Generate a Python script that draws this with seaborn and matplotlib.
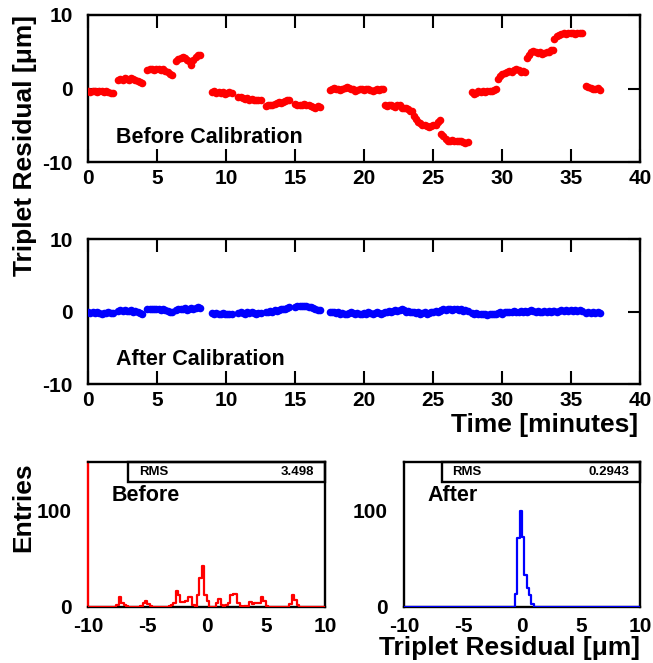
import numpy as np
import pandas as pd
import matplotlib
matplotlib.use("Agg")
import matplotlib.pyplot as plt
import seaborn as sns
from matplotlib.patches import Rectangle

# ---------------- data ----------------
seg_start = [0.0, 2.2, 4.3, 6.4, 9.0, 10.9, 12.9, 15.0, 17.5, 21.5, 23.6,
             25.6, 27.8, 29.7, 31.8, 33.8, 36.1]
seg_end = [1.8, 3.9, 6.1, 8.1, 10.4, 12.5, 14.6, 16.8, 21.4, 23.5, 25.5,
           27.5, 29.6, 31.7, 33.7, 35.8, 37.1]

before_segments = [
    [-0.4, -0.5, -0.3, -0.4, -0.5, -0.4, -0.3, -0.5, -0.4, -0.5, -0.6, -0.6],
    [1.1, 1.3, 1.2, 1.4, 1.3, 1.2, 1.4, 1.3, 1.2, 1.0, 0.9, 0.7],
    [2.5, 2.7, 2.6, 2.5, 2.7, 2.6, 2.5, 2.6, 2.4, 2.3, 2.0, 1.8],
    [3.8, 4.0, 4.2, 4.3, 4.1, 3.9, 3.8, 3.2, 3.9, 4.3, 4.6, 4.5],
    [-0.5, -0.4, -0.6, -0.5, -0.6, -0.5, -0.7, -0.6, -0.5, -0.6],
    [-1.2, -1.1, -1.3, -1.4, -1.3, -1.5, -1.4, -1.6, -1.5, -1.6, -1.5],
    [-2.4, -2.3, -2.2, -2.3, -2.1, -2.0, -1.9, -2.0, -1.8, -1.7, -1.6, -1.5],
    [-2.1, -2.2, -2.3, -2.2, -2.1, -2.3, -2.2, -2.4, -2.5, -2.6, -2.4, -2.5],
    [-0.2, 0.0, 0.1, 0.0, -0.1, -0.2, -0.1, 0.1, 0.2, 0.1, 0.0, -0.1, -0.3,
     -0.2, 0.0, -0.1, -0.2, -0.1, 0.0, -0.2, -0.3, -0.2, -0.1, -0.2, 0.0, -0.1],
    [-2.2, -2.4, -2.3, -2.2, -2.4, -2.5, -2.3, -2.2, -2.6, -2.7, -2.6, -2.8, -3.0, -3.1],
    [-3.8, -4.1, -4.5, -4.7, -4.9, -5.0, -5.1, -5.2, -5.1, -5.0, -4.9, -4.6, -4.3],
    [-6.2, -6.5, -6.9, -7.2, -7.1, -7.0, -7.1, -7.2, -7.1, -7.2, -7.3, -7.4, -7.3],
    [-0.5, -0.7, -0.6, -0.4, -0.5, -0.4, -0.5, -0.4, -0.3, -0.4, -0.2, -0.1],
    [1.3, 1.7, 2.0, 2.1, 2.3, 2.4, 2.3, 2.5, 2.6, 2.5, 2.3, 2.4, 2.2],
    [4.2, 4.6, 4.9, 5.1, 5.0, 4.8, 4.9, 4.7, 4.8, 4.9, 5.0, 5.2, 5.2],
    [6.8, 7.1, 7.3, 7.4, 7.5, 7.4, 7.6, 7.5, 7.5, 7.4, 7.6, 7.6, 7.5],
    [0.4, 0.2, 0.1, 0.0, -0.1, 0.1, -0.2],
]

after_segments = [
    [-0.1, -0.2, -0.1, -0.2, -0.1, -0.2, -0.3, -0.2, -0.2, -0.1, -0.2, -0.2],
    [0.1, 0.2, 0.1, 0.2, 0.1, 0.1, 0.2, 0.0, 0.1, -0.1, -0.2, -0.4],
    [0.4, 0.3, 0.4, 0.3, 0.4, 0.3, 0.2, 0.3, 0.2, 0.1, 0.0, -0.1],
    [0.2, 0.3, 0.4, 0.3, 0.5, 0.2, 0.3, 0.5, 0.4, 0.5, 0.6, 0.5],
    [-0.2, -0.3, -0.2, -0.4, -0.3, -0.2, -0.3, -0.4, -0.3, -0.3],
    [-0.2, -0.1, -0.2, -0.3, -0.1, -0.2, -0.1, -0.2, -0.3, -0.2, -0.2],
    [-0.1, 0.0, 0.1, 0.0, 0.2, 0.1, 0.2, 0.3, 0.3, 0.4, 0.5, 0.6],
    [0.6, 0.7, 0.8, 0.7, 0.8, 0.7, 0.6, 0.6, 0.5, 0.3, 0.2, 0.2],
    [-0.1, 0.0, -0.1, -0.2, -0.1, -0.3, -0.2, -0.4, -0.3, -0.2, -0.1, -0.2, -0.3,
     -0.2, -0.4, -0.3, -0.2, -0.3, -0.1, -0.2, -0.3, -0.2, -0.1, -0.2, -0.3, -0.2],
    [-0.1, 0.0, 0.1, 0.0, 0.1, 0.2, 0.1, 0.2, 0.3, 0.2, 0.0, 0.1, -0.1, 0.0],
    [-0.1, -0.2, -0.1, -0.3, -0.2, -0.1, -0.3, -0.2, -0.1, 0.0, 0.1, 0.0, 0.1],
    [0.2, 0.3, 0.2, 0.4, 0.3, 0.2, 0.4, 0.3, 0.2, 0.3, 0.1, 0.2, 0.1],
    [-0.2, -0.3, -0.2, -0.4, -0.3, -0.4, -0.3, -0.5, -0.4, -0.3, -0.4, -0.3],
    [-0.2, -0.1, -0.3, -0.1, 0.0, -0.1, 0.0, 0.1, 0.0, -0.1, 0.1, 0.0, 0.1],
    [0.0, 0.1, 0.2, 0.1, 0.0, 0.1, -0.1, 0.0, 0.1, 0.0, 0.1, 0.0, 0.1],
    [0.1, 0.0, 0.1, 0.2, 0.1, 0.2, 0.1, 0.2, 0.1, 0.2, 0.1, 0.2, 0.1],
    [-0.2, -0.1, -0.2, -0.1, -0.2, -0.1, -0.2],
]

# histogram bins (lower edges, width 0.2) and counts
before_bin_lo = [-7.6, -7.4, -7.2, -7.0, -6.8, -5.6, -5.4, -5.2, -5.0, -4.8,
                 -3.2, -3.0, -2.8, -2.6, -2.4, -2.2, -2.0, -1.8, -1.6, -1.4, -1.2,
                 -0.8, -0.6, -0.4, -0.2, 0.0,
                 0.8, 1.0, 1.2, 1.6, 1.8, 2.0, 2.2, 2.4, 2.6, 2.8,
                 3.2, 3.4, 3.6, 3.8, 4.0, 4.2, 4.4, 4.6, 4.8, 5.0,
                 7.0, 7.2, 7.4, 7.6]
before_counts = [2, 10, 4, 2, 1, 1, 4, 6, 3, 1,
                 1, 2, 4, 17, 12, 5, 5, 6, 10, 10, 2,
                 12, 30, 43, 12, 6,
                 4, 8, 2, 2, 4, 12, 14, 14, 4, 1,
                 1, 1, 5, 3, 4, 4, 4, 10, 6, 1,
                 3, 13, 7, 2]

after_bin_lo = [-0.6, -0.4, -0.2, 0.0, 0.2, 0.4, 0.6, 0.8]
after_counts = [14, 72, 100, 73, 33, 20, 12, 3]

rms_before = "3.498"
rms_after = "0.2943"

# ---------------- tables ----------------
rows = []
for t0, t1, bv, av in zip(seg_start, seg_end, before_segments, after_segments):
    tt = np.linspace(t0, t1, len(bv))
    for ti, b, a in zip(tt, bv, av):
        rows.append((ti, b, a))
df = pd.DataFrame(rows, columns=["time", "before", "after"])

hb = pd.DataFrame({"x": np.array(before_bin_lo) + 0.1, "w": before_counts})
ha = pd.DataFrame({"x": np.array(after_bin_lo) + 0.1, "w": after_counts})

# ---------------- style ----------------
sns.set_theme(style="white")
plt.rcParams["font.family"] = ["Liberation Sans", "DejaVu Sans"]
plt.rcParams["font.weight"] = "bold"
for k in ["text.color", "axes.labelcolor", "xtick.color", "ytick.color",
          "xtick.labelcolor", "ytick.labelcolor"]:
    plt.rcParams[k] = "black"

W, H = 653, 663
fig = plt.figure(figsize=(W / 100, H / 100), dpi=100)
fig.patch.set_facecolor("white")


def ax_px(l, t, r, b):
    return fig.add_axes([l / W, 1 - b / H, (r - l) / W, (b - t) / H])


ax1 = ax_px(88, 15, 640, 162)
ax2 = ax_px(88, 239, 640, 384)
ax3 = ax_px(88, 462, 325, 607)
ax4 = ax_px(404, 462, 640, 607)

TICKFS = 15

for ax, col, label, ly in [(ax1, "before", "Before Calibration", 0.17),
                           (ax2, "after", "After Calibration", 0.17)]:
    sns.scatterplot(data=df, x="time", y=col, ax=ax, s=30, linewidth=0,
                    color="#ff0000" if col == "before" else "#0000ff",
                    legend=False, zorder=3)
    ax.set_xlim(0, 40)
    ax.set_ylim(-10, 10)
    ax.set_xticks([0, 5, 10, 15, 20, 25, 30, 35, 40])
    ax.set_yticks([-10, 0, 10])
    ax.set_xticklabels(["0", "5", "10", "15", "20", "25", "30", "35", "40"])
    ax.set_yticklabels(["-10", "0", "10"])
    ax.tick_params(axis="x", direction="in", length=9.5, width=1.5,
                   top=True, bottom=True, pad=5, labelsize=TICKFS,
                   colors="black", labelcolor="black")
    ax.tick_params(axis="y", direction="in", length=8.5, width=1.5,
                   left=True, right=True, pad=11, labelsize=TICKFS,
                   colors="black", labelcolor="black")
    for lab in ax.get_xticklabels() + ax.get_yticklabels():
        lab.set_fontweight("bold")
    ax.set_xlabel("")
    ax.set_ylabel("")
    for sp in ax.spines.values():
        sp.set_linewidth(1.7)
        sp.set_color("black")
    ax.text(28 / 552, ly, label, transform=ax.transAxes, fontsize=15.5,
            fontweight="bold", ha="left", va="center", color="black")

for ax, d, col, name, rms, boxl in [(ax3, hb, "#ff0000", "Before", rms_before, 40 / 237),
                                    (ax4, ha, "#0000ff", "After", rms_after, 38 / 236)]:
    sns.histplot(data=d, x="x", weights="w", binwidth=0.2, binrange=(-10, 10),
                 element="step", fill=False, color=col, linewidth=1.6, ax=ax,
                 zorder=3)
    ax.set_xlim(-10, 10)
    ax.set_ylim(0, 151)
    ax.set_xticks([-10, -5, 0, 5, 10])
    ax.set_xticklabels(["-10", "-5", "0", "5", "10"])
    ax.set_yticks([0, 100])
    ax.set_yticklabels(["0", "100"])
    ax.tick_params(axis="x", direction="in", length=8, width=1.5, top=False,
                   pad=7, labelsize=TICKFS, colors="black", labelcolor="black")
    ax.tick_params(axis="y", direction="in", length=8.5, width=1.2, right=False,
                   pad=12, labelsize=TICKFS, colors="black", labelcolor="black")
    for lab in ax.get_xticklabels() + ax.get_yticklabels():
        lab.set_fontweight("bold")
    ax.set_xlabel("")
    ax.set_ylabel("")
    for sp in ax.spines.values():
        sp.set_linewidth(1.7)
        sp.set_color("black")
    ax.add_patch(Rectangle((boxl, 0.862), 1 - boxl, 0.138, transform=ax.transAxes,
                           fill=False, edgecolor="black", linewidth=1.7, zorder=5,
                           clip_on=False))
    ax.text(boxl + 0.045, 0.931, "RMS", transform=ax.transAxes, fontsize=9.5,
            fontweight="bold", ha="left", va="center", color="black")
    ax.text(0.955, 0.931, rms, transform=ax.transAxes, fontsize=9.5,
            fontweight="bold", ha="right", va="center", color="black")
    ax.text(0.10, 0.772, name, transform=ax.transAxes, fontsize=15.5,
            fontweight="bold", ha="left", va="center", color="black")

# left histogram: red left frame and red tick (as in the original)
ax3.spines["left"].set_color("#ff0000")
ax3.tick_params(axis="y", colors="#ff0000", labelcolor="black")

# axis titles
fig.text(25 / W, 1 - 15 / H, "Triplet Residual [\u03bcm]", rotation=90,
         ha="center", va="top", fontsize=19, fontweight="bold", color="black")
fig.text(23 / W, 1 - 462 / H, "Entries", rotation=90,
         ha="center", va="top", fontsize=19, fontweight="bold", color="black")
fig.text(638 / W, 1 - 425 / H, "Time [minutes]", ha="right", va="center",
         fontsize=19, fontweight="bold", color="black")
fig.text(640 / W, 1 - 648 / H, "Triplet Residual [\u03bcm]", ha="right",
         va="center", fontsize=19, fontweight="bold", color="black")

fig.savefig("out.png", dpi=100, facecolor="white")
